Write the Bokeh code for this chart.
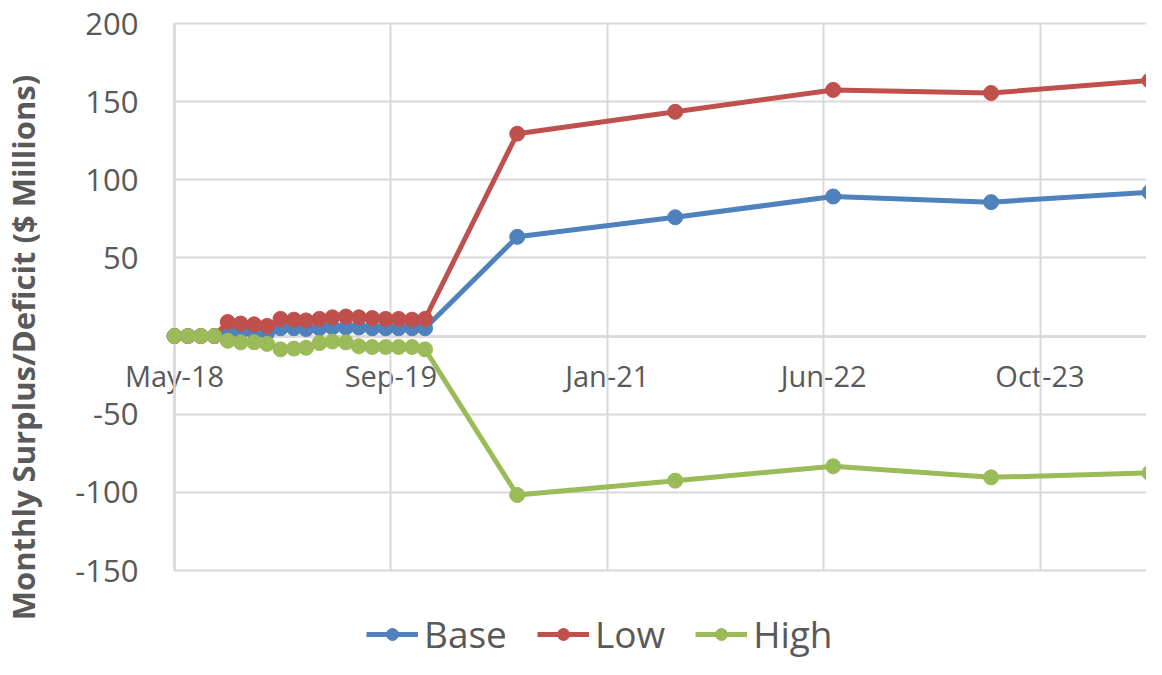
from math import pi
import pandas as pd
from bokeh.plotting import figure
from bokeh.models import (Range1d, FixedTicker, DatetimeTickFormatter, Legend,
                          LegendItem, Label, ColumnDataSource, Grid)
from bokeh.embed import file_html
from bokeh.resources import INLINE

# ---------------- data ----------------
monthly_dates = list(pd.date_range("2018-05-01", "2019-12-01", freq="MS"))
annual_dates = list(pd.to_datetime(["2020-07-01", "2021-07-01", "2022-07-01",
                                    "2023-07-01", "2024-07-01"]))
dates = monthly_dates + annual_dates

base = [0, 0, 0, 0, 3, 2.5, 2.5, 2, 5, 5, 4.5, 5, 5.5, 5.5, 5.5, 5, 5, 5, 5, 5,
        63.5, 76, 89.3, 85.7, 92]
low = [0, 0, 0, 0, 9, 8, 7.5, 6.5, 11, 10.5, 10, 11, 12, 12.5, 12, 11.5, 11, 11, 10.5, 11,
       129.5, 143.5, 157.5, 155.5, 163.5]
high = [0, 0, 0, 0, -3, -4, -4, -5, -8.5, -8, -7.5, -4.5, -3.5, -4, -6.5, -7, -7, -7, -7, -8.5,
        -101.7, -92.5, -83.3, -90.4, -87.6]

series_names = ["Base", "Low", "High"]
series_colors = ["#4f81bd", "#c0504d", "#9bbb59"]

x_tick_dates = list(pd.to_datetime(["2018-05-01", "2019-09-13", "2021-01-25",
                                    "2022-06-09", "2023-10-22"]))
x_tick_labels = ["May-18", "Sep-19", "Jan-21", "Jun-22", "Oct-23"]
y_ticks = [-150, -100, -50, 50, 100, 150, 200]
y_tick_labels = ["-150", "-100", "-50", "50", "100", "150", "200"]
y_grid = [-150, -100, -50, 0, 50, 100, 150, 200]
y_title = "Monthly Surplus/Deficit ($ Millions)"

# ---------------- layout ----------------
def ms(t):
    return float(pd.Timestamp(t).value // 10**6)

FONT = "Open Sans"
TXT = "#595959"
GRID = "#d9d9d9"
W, H = 1146, 659

# pixel placement of the plotting area inside the canvas
AX_LEFT, AX_RIGHT = 174, 1149        # px of first date / last date
Y_TOP, Y_BOT = 23, 570               # px of y=200 / y=-150
x_first, x_last = ms(dates[0]), ms(dates[-1])
y_min, y_max = -150, 200

xs = (x_last - x_first) / (AX_RIGHT - AX_LEFT)
ys = (y_max - y_min) / (Y_BOT - Y_TOP)
xr = Range1d(x_first - AX_LEFT * xs, x_first + (W - AX_LEFT) * xs)
yr = Range1d(y_min - (H - Y_BOT) * ys, y_max + Y_TOP * ys)

p = figure(width=W, height=H, x_axis_type="datetime", x_range=xr, y_range=yr,
           output_backend="svg", toolbar_location=None,
           min_border_left=0, min_border_top=0, min_border_right=0,
           min_border_bottom=0)
p.outline_line_color = None
p.background_fill_color = "white"
p.border_fill_color = "white"

tick_ms = [ms(t) for t in x_tick_dates]

# x axis crossing at y = 0
xa = p.xaxis[0]
xa.fixed_location = 0
xa.bounds = (x_first, xr.end)
xa.level = "underlay"
xa.ticker = FixedTicker(ticks=tick_ms)
xa.formatter = DatetimeTickFormatter(
    milliseconds="%b-%y", seconds="%b-%y", minsec="%b-%y", minutes="%b-%y",
    hourmin="%b-%y", hours="%b-%y", days="%b-%y", months="%b-%y", years="%b-%y")
xa.major_label_overrides = {t: lab for t, lab in zip(tick_ms, x_tick_labels)}
xa.major_tick_line_color = None
xa.minor_tick_line_color = None
xa.axis_line_color = "#bfbfbf"
xa.axis_line_width = 2
xa.major_label_text_font = FONT
xa.major_label_text_font_size = "29px"
xa.major_label_text_color = TXT
xa.major_label_standoff = 14

# y axis at the first date
ya = p.yaxis[0]
ya.fixed_location = x_first
ya.bounds = (y_min, y_max)
ya.level = "underlay"
ya.ticker = FixedTicker(ticks=y_ticks)
ya.major_label_overrides = {t: lab for t, lab in zip(y_ticks, y_tick_labels)}
ya.major_tick_line_color = None
ya.minor_tick_line_color = None
ya.axis_line_color = "#bfbfbf"
ya.axis_line_width = 2
ya.major_label_text_font = FONT
ya.major_label_text_font_size = "31px"
ya.major_label_text_color = TXT
ya.major_label_standoff = 30

# gridlines limited to the plotting area
if "cross_bounds" in Grid.properties():
    p.xgrid.ticker = FixedTicker(ticks=tick_ms)
    p.ygrid.ticker = FixedTicker(ticks=y_grid)
    p.xgrid.cross_bounds = (y_min, y_max)
    p.ygrid.cross_bounds = (x_first, xr.end)
    p.xgrid.grid_line_color = GRID
    p.ygrid.grid_line_color = GRID
    p.xgrid.grid_line_width = 2
    p.ygrid.grid_line_width = 2
else:
    p.xgrid.visible = False
    p.ygrid.visible = False
    p.segment(x0=tick_ms, x1=tick_ms, y0=[y_min] * len(tick_ms), y1=[y_max] * len(tick_ms),
              line_color=GRID, line_width=2, level="underlay")
    p.segment(x0=[x_first] * len(y_grid), x1=[xr.end] * len(y_grid), y0=y_grid, y1=y_grid,
              line_color=GRID, line_width=2, level="underlay")

src = ColumnDataSource(dict(date=[ms(d) for d in dates], Base=base, Low=low, High=high))

items = []
for name, col in zip(series_names, series_colors):
    r1 = p.line("date", name, source=src, line_color=col, line_width=5)
    r2 = p.scatter("date", name, source=src, size=15, fill_color=col, line_color=col)
    items.append(LegendItem(label=name, renderers=[r1, r2]))

legend = Legend(items=items, orientation="horizontal", location=(366, 0),
                label_text_font=FONT, label_text_font_size="37px",
                label_text_color=TXT, glyph_width=52, glyph_height=30,
                label_standoff=6, spacing=30, padding=0, margin=0,
                border_line_color=None, background_fill_alpha=0)
p.add_layout(legend, "center")

title = Label(x=22, y=H - 347, x_units="screen", y_units="screen", text=y_title,
              angle=pi / 2, text_align="center", text_baseline="middle",
              text_font=FONT, text_font_style="bold", text_font_size="31px",
              text_color=TXT)
p.add_layout(title)

open("out.html", "w").write(file_html(p, INLINE))
